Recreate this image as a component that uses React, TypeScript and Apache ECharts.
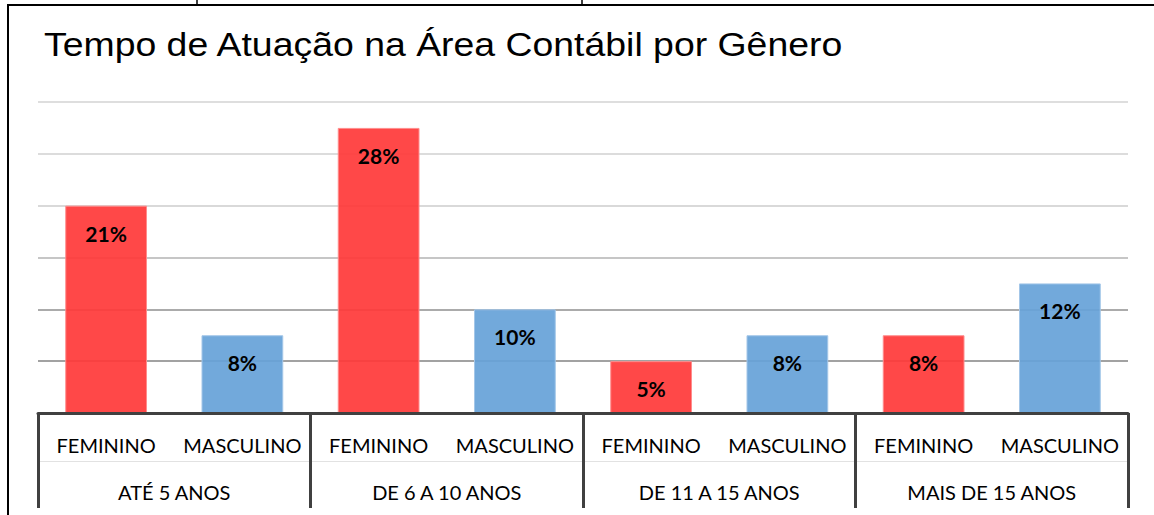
import React, { useEffect, useRef } from "react";
import * as echarts from "echarts";

const titleText = "Tempo de Atuação na Área Contábil por Gênero";
const groups = ["ATÉ 5 ANOS", "DE 6 A 10 ANOS", "DE 11 A 15 ANOS", "MAIS DE 15 ANOS"];
const subCategories = ["FEMININO", "MASCULINO", "FEMININO", "MASCULINO", "FEMININO", "MASCULINO", "FEMININO", "MASCULINO"];
// bar heights (respondent counts)
const counts = [8, 3, 11, 4, 2, 3, 3, 5];
// percentage data labels shown on the bars
const pctLabels = [21, 8, 28, 10, 5, 8, 8, 12];
const yTicks = [0, 2, 4, 6, 8, 10, 12];

const genderColors: Record<string, string> = { FEMININO: "rgba(255,56,56,0.92)", MASCULINO: "rgba(102,162,216,0.92)" };
const genderBorders: Record<string, string> = { FEMININO: "#ff8c8c", MASCULINO: "#a3c6e8" };

export default function App() {
  const ref = useRef<HTMLDivElement>(null);
  useEffect(() => {
    document.body.style.margin = "0";
    if (!ref.current) return;
    const chart = echarts.init(ref.current, null, { renderer: "svg" });
    const labelFont = "Lato, 'Open Sans', sans-serif";
    chart.setOption({
      animation: false,
      backgroundColor: "#ffffff",
      graphic: [
        { type: "line", shape: { x1: 8, y1: 5, x2: 1154, y2: 5 }, style: { stroke: "#000", lineWidth: 2 } },
        { type: "line", shape: { x1: 8, y1: 4, x2: 8, y2: 515 }, style: { stroke: "#000", lineWidth: 2 } },
        { type: "line", shape: { x1: 197, y1: 0, x2: 197, y2: 5 }, style: { stroke: "#000", lineWidth: 1.5 } },
        { type: "line", shape: { x1: 582, y1: 0, x2: 582, y2: 5 }, style: { stroke: "#000", lineWidth: 1.5 } },
        {
          type: "text",
          x: 44,
          y: 45,
          scaleX: 1.1,
          style: {
            text: titleText,
            fontFamily: "'Liberation Sans', Arial, sans-serif",
            fontSize: 34,
            fill: "#000",
            align: "left",
            verticalAlign: "middle",
          },
        },
      ],
      grid: { left: 38, right: 26, top: 102, bottom: 102, containLabel: false },
      xAxis: [
        {
          type: "category",
          data: subCategories,
          position: "bottom",
          axisLine: { lineStyle: { color: "#404040", width: 3 } },
          axisTick: { show: false },
          axisLabel: { margin: 22, fontFamily: labelFont, fontSize: 20, color: "#000", interval: 0 },
          z: 5,
        },
        {
          type: "category",
          data: groups,
          position: "bottom",
          axisLine: { show: false },
          axisTick: { show: true, length: 95, lineStyle: { color: "#404040", width: 3 } },
          axisLabel: { margin: 69, fontFamily: labelFont, fontSize: 20, color: "#000", interval: 0 },
          z: 5,
        },
        {
          type: "category",
          data: groups,
          position: "bottom",
          offset: 48,
          axisLine: { show: true, lineStyle: { color: "#e2e2e2", width: 1 } },
          axisTick: { show: false },
          axisLabel: { show: false },
        },
      ],
      yAxis: {
        type: "value",
        min: yTicks[0],
        max: yTicks[yTicks.length - 1],
        interval: yTicks[1] - yTicks[0],
        axisLabel: { show: false },
        axisLine: { show: false },
        axisTick: { show: false },
        splitLine: {
          lineStyle: {
            width: 2,
            color: ["#999999", "#a2a2a2", "#ababab", "#c6c6c6", "#d9d9d9", "#dcdcdc", "#dedede"],
          },
        },
      },
      series: [
        {
          type: "bar",
          xAxisIndex: 0,
          barWidth: "60%",
          data: counts.map((v, i) => ({
            value: v,
            itemStyle: {
              color: genderColors[subCategories[i]],
              borderColor: genderBorders[subCategories[i]],
              borderWidth: 1,
            },
          })),
          label: {
            show: true,
            position: "insideTop",
            distance: 17,
            formatter: (p: any) => pctLabels[p.dataIndex] + "%",
            fontFamily: labelFont,
            fontWeight: "bold",
            fontSize: 21,
            color: "#000",
          },
        },
      ],
    });
    return () => chart.dispose();
  }, []);
  return <div ref={ref} style={{ width: 1154, height: 515 }} />;
}
